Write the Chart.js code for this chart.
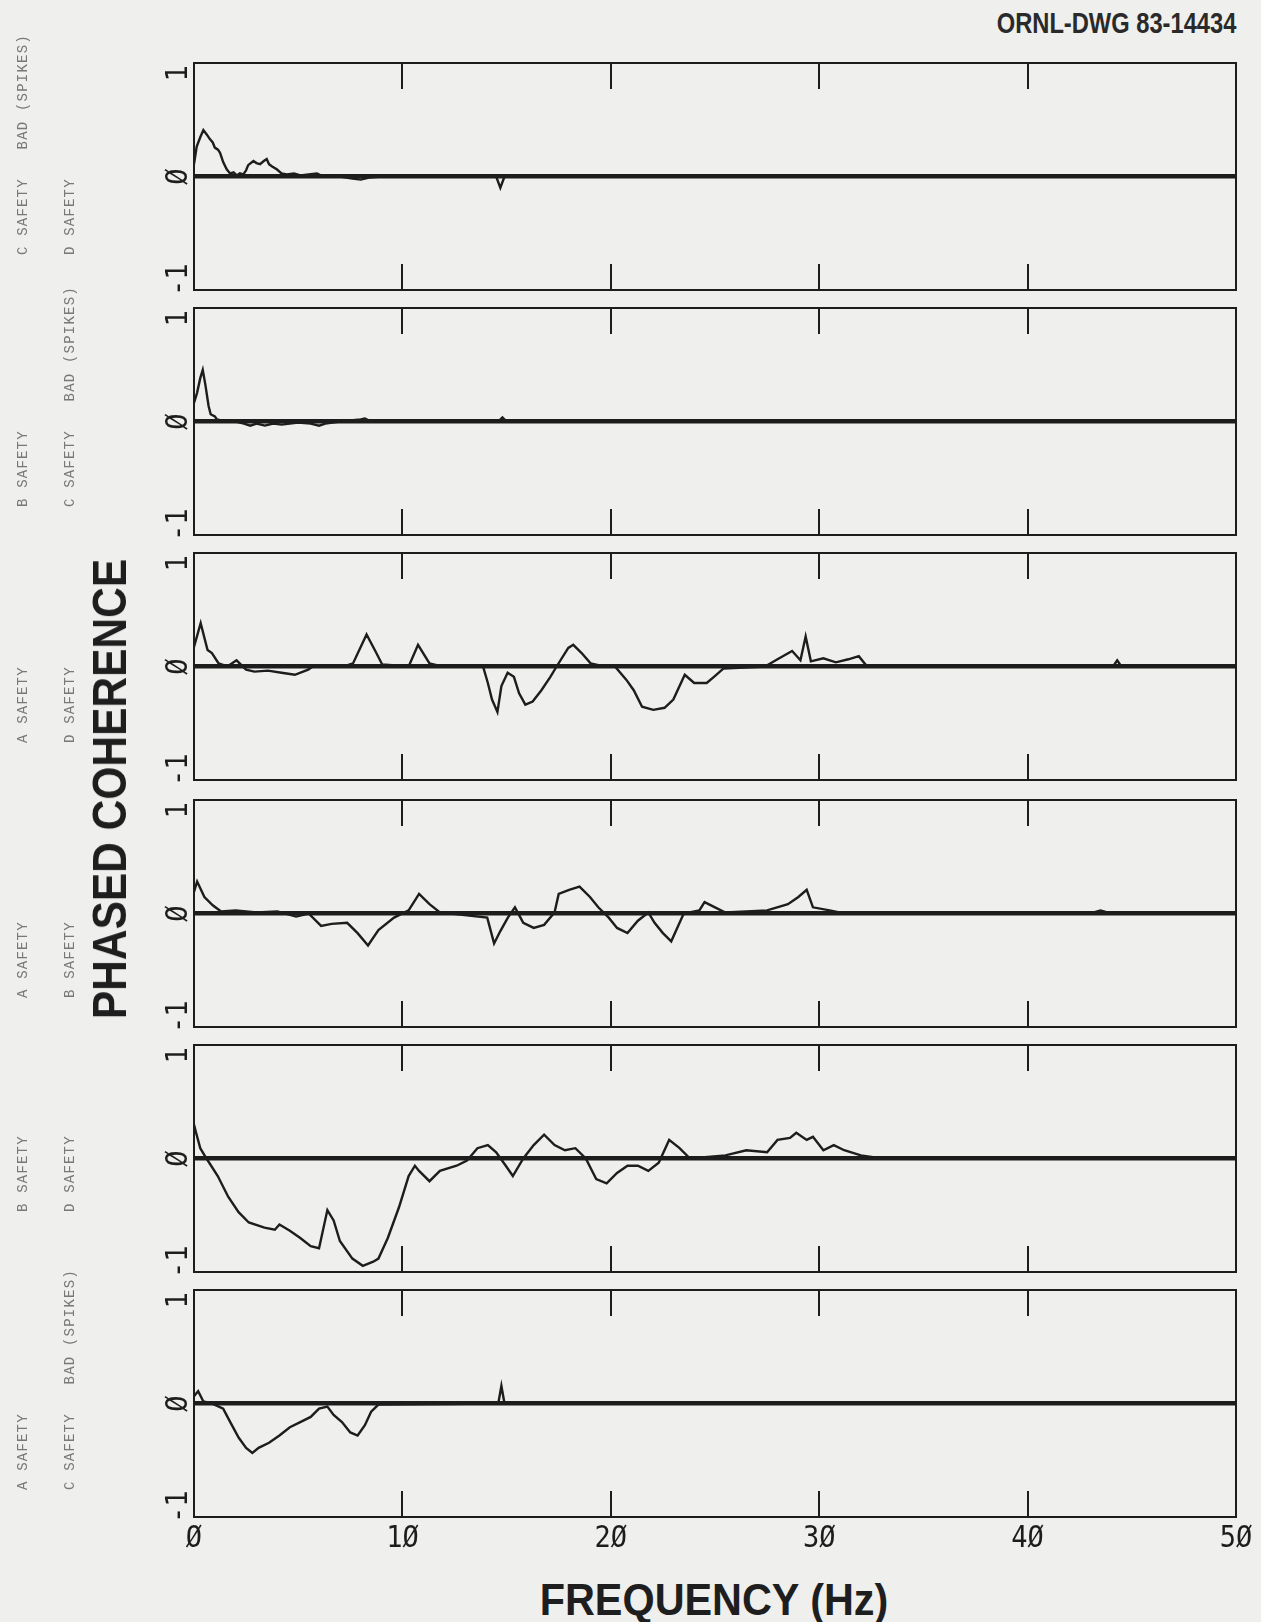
<!DOCTYPE html>
<html>
<head>
<meta charset="utf-8">
<script src="https://cdn.jsdelivr.net/npm/chart.js@4.4.1/dist/chart.umd.min.js"></script>
<style>
  html, body { margin: 0; padding: 0; background: #efefed; }
  #page { position: relative; width: 1261px; height: 1622px; overflow: hidden; background: #efefed; }
  #page canvas { position: absolute; left: 0; }
  .chan { position: absolute; transform-origin: 0 0; transform: rotate(-90deg) translateY(-50%);
          white-space: pre; color: #787878; font-family: "Liberation Mono", monospace;
          font-size: 14px; letter-spacing: 1.2px; line-height: 1; }
  .big { position: absolute; white-space: pre; color: #1e1e1e; font-family: "Liberation Sans", Arial, sans-serif;
         font-weight: bold; line-height: 1; }
</style>
</head>
<body>
<div id="page"></div>
<script>
// ---- data: phased coherence vs. frequency (Hz) for each detector pair ----
const freqP1 = [0, 0.13, 0.3, 0.45, 0.6, 0.77, 0.9, 1.0, 1.15, 1.25, 1.4, 1.57, 1.73, 1.9, 2.05, 2.2, 2.37, 2.5, 2.6, 2.85, 3.0, 3.17, 3.35, 3.49, 3.6, 3.73, 3.97, 4.2, 4.45, 4.8, 5.1, 5.5, 5.9, 6.2, 7.0, 7.6, 8.0, 8.4, 9.0, 14.5, 14.7, 14.9, 50];
const cohP1  = [0.12, 0.29, 0.38, 0.45, 0.41, 0.36, 0.33, 0.28, 0.26, 0.23, 0.14, 0.07, 0.03, 0.04, 0.01, 0.03, 0.02, 0.06, 0.11, 0.15, 0.13, 0.12, 0.15, 0.17, 0.12, 0.1, 0.07, 0.03, 0.02, 0.03, 0.01, 0.02, 0.03, 0, 0, -0.02, -0.03, -0.01, 0, 0, -0.11, 0, 0];

const freqP2 = [0, 0.15, 0.3, 0.42, 0.55, 0.7, 0.8, 1.0, 1.1, 1.5, 2.0, 2.4, 2.7, 3.0, 3.4, 3.8, 4.2, 5.0, 5.6, 6.0, 6.3, 7.0, 8.0, 8.2, 8.5, 14.6, 14.8, 15.0, 50];
const cohP2  = [0.18, 0.28, 0.42, 0.5, 0.35, 0.15, 0.07, 0.05, 0.02, 0, 0, -0.02, -0.04, -0.02, -0.04, -0.02, -0.03, -0.01, -0.02, -0.04, -0.02, 0, 0.02, 0.03, 0, 0, 0.04, 0, 0];

const freqP3 = [0, 0.32, 0.65, 0.86, 1.18, 1.6, 2.04, 2.5, 2.9, 3.55, 4.2, 4.84, 5.48, 5.7, 7.2, 7.63, 8.28, 8.7, 9.03, 10.3, 10.75, 11.3, 11.9, 13.87, 14.1, 14.3, 14.56, 14.75, 15.05, 15.35, 15.6, 15.9, 16.25, 16.67, 17.1, 17.4, 17.96, 18.2, 18.6, 19.03, 19.68, 20.2, 20.75, 21.1, 21.5, 22.04, 22.58, 23.0, 23.55, 24.0, 24.6, 24.95, 25.4, 27.4, 28.0, 28.7, 29.1, 29.35, 29.6, 30.2, 30.8, 31.4, 31.9, 32.3, 44.1, 44.3, 44.5, 50];
const cohP3  = [0.19, 0.42, 0.16, 0.13, 0.03, 0.0, 0.06, -0.03, -0.05, -0.04, -0.06, -0.08, -0.03, 0, 0, 0.03, 0.31, 0.15, 0.02, 0, 0.21, 0.03, 0, 0, -0.16, -0.32, -0.44, -0.19, -0.06, -0.1, -0.26, -0.37, -0.34, -0.23, -0.1, 0, 0.18, 0.21, 0.13, 0.03, 0, 0, -0.13, -0.23, -0.39, -0.42, -0.4, -0.32, -0.08, -0.16, -0.16, -0.1, -0.02, 0, 0.07, 0.15, 0.06, 0.29, 0.05, 0.08, 0.04, 0.07, 0.1, 0, 0, 0.06, 0, 0];

const freqP4 = [0, 0.15, 0.5, 0.9, 1.3, 2.0, 3.0, 4.0, 4.9, 5.5, 6.1, 6.6, 7.35, 7.85, 8.35, 8.85, 9.6, 10.3, 10.8, 11.3, 11.8, 14.07, 14.4, 14.7, 15.06, 15.4, 15.8, 16.3, 16.8, 17.3, 17.5, 18.0, 18.5, 19.0, 19.4, 19.9, 20.3, 20.8, 21.3, 21.8, 22.1, 22.5, 22.9, 23.3, 23.5, 24.25, 24.5, 25.0, 25.5, 27.5, 28.5, 29.0, 29.4, 29.7, 30.5, 31.2, 43.0, 43.5, 44.0, 50];
const cohP4  = [0.21, 0.31, 0.16, 0.08, 0.02, 0.03, 0.01, 0.02, -0.03, 0, -0.12, -0.1, -0.09, -0.19, -0.31, -0.16, -0.04, 0.03, 0.19, 0.09, 0.01, -0.04, -0.29, -0.17, -0.04, 0.06, -0.09, -0.14, -0.11, 0.01, 0.19, 0.23, 0.26, 0.16, 0.06, -0.04, -0.14, -0.19, -0.07, 0.01, -0.09, -0.19, -0.27, -0.09, 0, 0.03, 0.11, 0.06, 0.01, 0.03, 0.09, 0.16, 0.23, 0.06, 0.03, 0, 0, 0.03, 0, 0];

const freqP5 = [0, 0.1, 0.3, 0.6, 1.14, 1.64, 2.14, 2.63, 3.38, 3.88, 4.1, 4.6, 5.1, 5.6, 6.0, 6.4, 6.7, 7.0, 7.6, 8.1, 8.6, 8.85, 9.3, 9.84, 10.3, 10.6, 10.8, 11.3, 11.8, 12.6, 13.1, 13.6, 14.1, 14.5, 14.96, 15.3, 15.8, 16.3, 16.8, 17.3, 17.8, 18.3, 18.8, 19.3, 19.8, 20.3, 20.8, 21.3, 21.8, 22.3, 22.8, 23.3, 23.8, 25.5, 26.5, 27.5, 28.0, 28.6, 28.9, 29.4, 29.7, 30.2, 30.7, 31.2, 32.0, 33.0, 50];
const cohP5  = [0.33, 0.25, 0.1, 0.0, -0.17, -0.37, -0.52, -0.62, -0.67, -0.69, -0.64, -0.7, -0.77, -0.85, -0.87, -0.5, -0.6, -0.8, -0.97, -1.04, -1.0, -0.97, -0.77, -0.47, -0.17, -0.07, -0.12, -0.22, -0.12, -0.07, -0.02, 0.1, 0.13, 0.06, -0.07, -0.17, 0, 0.13, 0.23, 0.13, 0.08, 0.1, 0, -0.2, -0.24, -0.14, -0.07, -0.07, -0.12, -0.04, 0.18, 0.1, 0, 0.03, 0.08, 0.06, 0.18, 0.2, 0.25, 0.18, 0.21, 0.08, 0.13, 0.08, 0.03, 0, 0];

const freqP6 = [0, 0.2, 0.45, 0.85, 1.4, 1.74, 2.14, 2.5, 2.8, 3.1, 3.6, 4.1, 4.6, 5.1, 5.6, 6.0, 6.4, 6.7, 7.1, 7.5, 7.85, 8.2, 8.5, 8.85, 14.6, 14.75, 14.9, 50];
const cohP6  = [0.07, 0.12, 0.02, 0, -0.05, -0.18, -0.33, -0.43, -0.48, -0.43, -0.38, -0.31, -0.23, -0.18, -0.13, -0.05, -0.03, -0.11, -0.18, -0.28, -0.31, -0.21, -0.08, -0.01, 0, 0.17, 0, 0];

// channel pair shown in each panel (first / second signal)
const channelFirst  = ['C SAFETY   BAD (SPIKES)', 'B SAFETY', 'A SAFETY', 'A SAFETY', 'B SAFETY', 'A SAFETY'];
const channelSecond = ['D SAFETY', 'C SAFETY   BAD (SPIKES)', 'D SAFETY', 'B SAFETY', 'D SAFETY', 'C SAFETY   BAD (SPIKES)'];

// axis ticks
const xTickValues = [0, 10, 20, 30, 40, 50];
const xTickLabels = ['Ø', '1Ø', '2Ø', '3Ø', '4Ø', '5Ø'];
const innerTickHz = [10, 20, 30, 40];
const yTickValues = [1, 0, -1];
const yTickLabels = ['1', 'Ø', '-1'];

const drawingNumber = 'ORNL-DWG 83-14434';
const yTitle = 'PHASED COHERENCE';
const xTitle = 'FREQUENCY (Hz)';

const series = [
  [freqP1, cohP1], [freqP2, cohP2], [freqP3, cohP3],
  [freqP4, cohP4], [freqP5, cohP5], [freqP6, cohP6]
];

// ---- layout ----
const INK = '#1d1d1d';
const PLOT_LEFT = 194, PLOT_RIGHT = 1236;
const panelTops = [63, 308, 553, 800, 1045, 1290];
const PANEL_H = 227;
const labelBottoms = [255, 507, 743, 998, 1212, 1490];
const labelCols = [23, 70];

const page = document.getElementById('page');

function addText(cls, text, css) {
  const d = document.createElement('div');
  d.className = cls;
  d.textContent = text;
  Object.assign(d.style, css);
  page.appendChild(d);
  return d;
}

// frame, inner ticks and rotated tick labels drawn from the chart's scales
const panelFrame = {
  id: 'panelFrame',
  afterDraw(chart, args, opts) {
    const { ctx, chartArea: a, scales: { x, y } } = chart;
    ctx.save();
    ctx.strokeStyle = INK;
    ctx.lineWidth = 2;
    ctx.strokeRect(a.left, a.top, a.right - a.left, a.bottom - a.top);
    ctx.beginPath();
    innerTickHz.forEach(v => {
      const px = Math.round(x.getPixelForValue(v));
      ctx.moveTo(px, a.top); ctx.lineTo(px, a.top + 26);
      ctx.moveTo(px, a.bottom); ctx.lineTo(px, a.bottom - 26);
    });
    ctx.stroke();

    ctx.fillStyle = INK;
    ctx.font = '30px "DejaVu Sans Mono", monospace';
    ctx.textAlign = 'center';
    ctx.textBaseline = 'middle';
    yTickValues.forEach((v, i) => {
      ctx.save();
      ctx.translate(a.left - 15, y.getPixelForValue(v));
      ctx.rotate(-Math.PI / 2);
      ctx.scale(0.9, 1);
      ctx.fillText(yTickLabels[i], 0, 0);
      ctx.restore();
    });
    if (opts.showX) {
      xTickValues.forEach((v, i) => {
        ctx.save();
        ctx.translate(x.getPixelForValue(v), a.bottom + 22);
        ctx.scale(0.9, 1);
        ctx.fillText(xTickLabels[i], 0, 0);
        ctx.restore();
      });
    }
    ctx.restore();
  }
};

series.forEach(([freq, coh], i) => {
  const last = i === series.length - 1;
  const padTop = 10, padBottom = last ? 55 : 10;
  const canvas = document.createElement('canvas');
  canvas.width = 1261;
  canvas.height = PANEL_H + padTop + padBottom;
  canvas.style.top = (panelTops[i] - padTop) + 'px';
  page.appendChild(canvas);

  new Chart(canvas, {
    type: 'line',
    data: {
      datasets: [{
        data: freq.map((f, k) => ({ x: f, y: coh[k] })),
        borderColor: INK,
        borderWidth: 2.4,
        pointRadius: 0,
        tension: 0,
        fill: false
      }]
    },
    options: {
      responsive: false,
      animation: false,
      devicePixelRatio: 1,
      layout: { padding: { left: PLOT_LEFT, right: 1261 - PLOT_RIGHT, top: padTop, bottom: padBottom } },
      plugins: { legend: { display: false }, tooltip: { enabled: false }, panelFrame: { showX: last } },
      scales: {
        x: { type: 'linear', min: 0, max: 50, display: false },
        y: {
          type: 'linear', min: -1.1, max: 1.1,
          afterBuildTicks: s => { s.ticks = yTickValues.map(v => ({ value: v })); },
          afterFit: s => { s.width = 0; },
          ticks: { display: false },
          border: { display: false },
          grid: {
            drawTicks: false,
            color: c => (c.tick && c.tick.value === 0 ? INK : 'rgba(0,0,0,0)'),
            lineWidth: c => (c.tick && c.tick.value === 0 ? 4.5 : 0)
          }
        }
      }
    },
    plugins: [panelFrame]
  });

  addText('chan', channelFirst[i], { left: labelCols[0] + 'px', top: labelBottoms[i] + 'px' });
  addText('chan', channelSecond[i], { left: labelCols[1] + 'px', top: labelBottoms[i] + 'px' });
});

// titles
addText('big', drawingNumber, {
  right: (1261 - PLOT_RIGHT) + 'px', top: '8px', fontSize: '30px',
  transformOrigin: '100% 50%', transform: 'scaleX(0.79)', color: '#2a2a2a'
});
addText('big', yTitle, {
  left: '110px', top: '789px', fontSize: '48px',
  transform: 'translate(-50%, -50%) rotate(-90deg) scaleX(0.885)'
});
addText('big', xTitle, {
  left: '714px', top: '1600px', fontSize: '44px',
  transform: 'translate(-50%, -50%) scaleX(0.94)'
});
</script>
</body>
</html>
